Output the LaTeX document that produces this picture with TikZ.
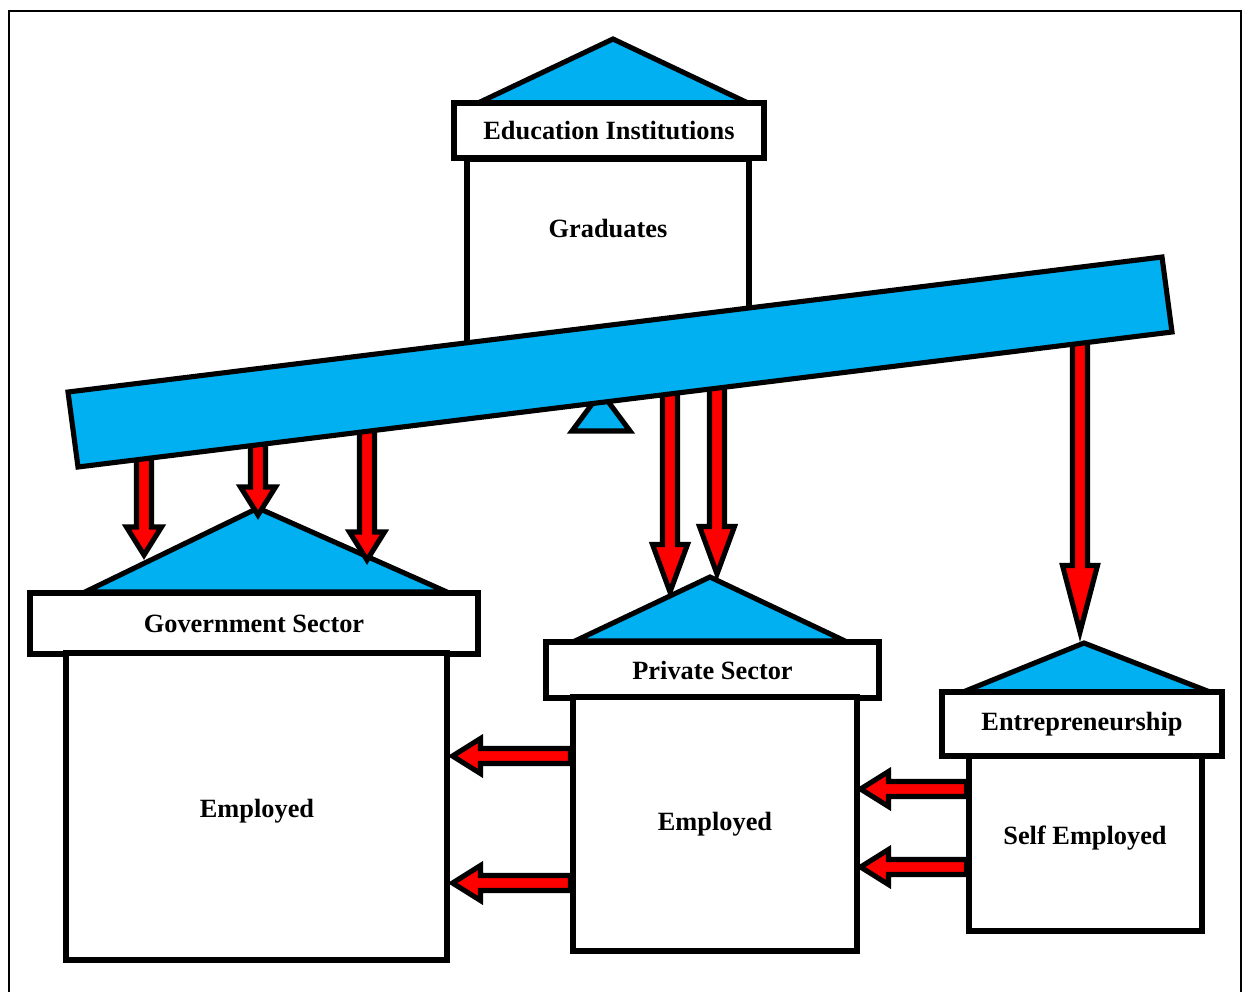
\documentclass[tikz,border=0pt]{standalone}
\usepackage{fontspec}
\setmainfont{Liberation Serif}
\usetikzlibrary{calc}
\definecolor{roofblue}{HTML}{00B0F0}
\definecolor{arrowred}{HTML}{FF0000}
\tikzset{
  outline/.style={draw=black, line width=2.9pt, line join=miter},
  roof/.style={outline, fill=roofblue},
  box/.style={outline, fill=white, rectangle, inner sep=0pt,
    font=\bfseries\fontsize{15}{18}\selectfont},
  txt/.style={font=\bfseries\fontsize{15}{18}\selectfont},
  fatarrow/.style={outline, fill=arrowred, to path={
      ($(\tikztostart)!0.15cm!90:(\tikztotarget)$)
      -- ($ ($(\tikztotarget)!#1!(\tikztostart)$) !0.15cm!-90:(\tikztostart)$)
      -- ($ ($(\tikztotarget)!#1!(\tikztostart)$) !0.35cm!-90:(\tikztostart)$)
      -- (\tikztotarget)
      -- ($ ($(\tikztotarget)!#1!(\tikztostart)$) !0.35cm!90:(\tikztostart)$)
      -- ($ ($(\tikztotarget)!#1!(\tikztostart)$) !0.15cm!90:(\tikztostart)$)
      -- ($(\tikztostart)!0.15cm!-90:(\tikztotarget)$)
      -- cycle}},
  fatarrow/.default=0.56cm
}
\begin{document}
\begin{tikzpicture}[x=0.02cm, y=-0.02cm]
  \useasboundingbox (0,0) rectangle (1243,991);
  \draw[line width=1.1pt] (9,1010) -- (9,11) -- (1241,11) -- (1241,1010);

  % education institutions
  \node[box, minimum width=5.64cm, minimum height=4.1cm] (edubody) at (608,262) {};
  \node[txt] (grad) at (608,229) {Graduates};
  \draw[roof] (478,103) -- (613,39) -- (748,103) -- cycle;
  \node[box, minimum width=6.2cm, minimum height=1.1cm] (edu) at (609,130.5) {Education Institutions};

  % fulcrum
  \draw[roof] (572,431) -- (601,392) -- (630,431) -- cycle;

  % lower houses: roofs first
  \draw[roof] (85,592) -- (258,508) -- (447,592) -- cycle;
  \draw[roof] (575,641) -- (710,577) -- (845,641) -- cycle;
  \draw[roof] (963,692) -- (1084,643) -- (1210,692) -- cycle;

  % arrow ends
  \coordinate (g1s) at (144,445);  \coordinate (g1t) at (144,555);
  \coordinate (g2s) at (258,430);  \coordinate (g2t) at (258,515);
  \coordinate (g3s) at (367,420);  \coordinate (g3t) at (367,560);
  \coordinate (p1s) at (670,385);  \coordinate (p1t) at (670,592);
  \coordinate (p2s) at (717,378);  \coordinate (p2t) at (717,574);
  \coordinate (es)  at (1080,335); \coordinate (et)  at (1080,632);

  \draw[fatarrow] (g1s) to (g1t);
  \draw[fatarrow] (g2s) to (g2t);
  \draw[fatarrow] (g3s) to (g3t);
  \draw[fatarrow=0.95cm] (p1s) to (p1t);
  \draw[fatarrow=0.95cm] (p2s) to (p2t);
  \draw[fatarrow=1.33cm] (es) to (et);

  % beam
  \draw[roof] (68,392) -- (1162,257) -- (1172,332) -- (78,467) -- cycle;

  % labels and bodies
  \node[box, minimum width=8.96cm, minimum height=1.22cm] (gov) at (254,623.5) {Government Sector};
  \node[box, minimum width=7.62cm, minimum height=6.14cm] (govbody) at (256.5,806.5) {};
  \node[txt] (govemp) at (257,811) {Employed};
  \node[box, minimum width=6.66cm, minimum height=1.12cm] (priv) at (712.5,670) {Private Sector};
  \node[box, minimum width=5.68cm, minimum height=5.08cm] (privbody) at (715,824) {Employed};
  \node[box, minimum width=5.6cm, minimum height=1.28cm] (ent) at (1082,724) {Entrepreneurship};
  \node[box, minimum width=4.66cm, minimum height=3.5cm] (entbody) at (1085.5,843.5) {};
  \node[txt] (self) at (1085,838) {Self Employed};

  \coordinate (h1) at (0,756);
  \coordinate (h2) at (0,883);
  \coordinate (h3) at (0,789);
  \coordinate (h4) at (0,867);
  \coordinate (h1s) at (privbody.west |- h1); \coordinate (h1t) at ($(govbody.east |- h1)+(3,0)$);
  \coordinate (h2s) at (privbody.west |- h2); \coordinate (h2t) at ($(govbody.east |- h2)+(3,0)$);
  \coordinate (h3s) at (entbody.west |- h3);  \coordinate (h3t) at ($(privbody.east |- h3)+(1,0)$);
  \coordinate (h4s) at (entbody.west |- h4);  \coordinate (h4t) at ($(privbody.east |- h4)+(1,0)$);

  \draw[fatarrow] (h1s) to (h1t);
  \draw[fatarrow] (h2s) to (h2t);
  \draw[fatarrow] (h3s) to (h3t);
  \draw[fatarrow] (h4s) to (h4t);
\end{tikzpicture}
\end{document}
